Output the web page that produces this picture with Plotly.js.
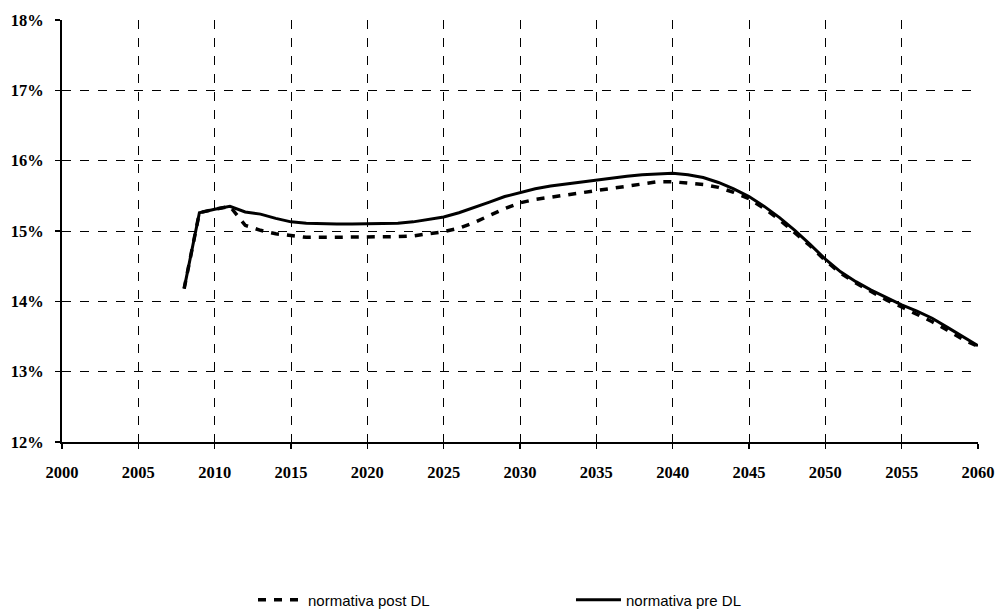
<!DOCTYPE html>
<html>
<head>
<meta charset="utf-8">
<script src="https://cdn.plot.ly/plotly-3.0.1.min.js"></script>
<style>html,body{margin:0;padding:0;background:#fff;}#chart{width:997px;height:616px;}</style>
</head>
<body>
<div id="chart"></div>
<script>
const years = [2008,2009,2010,2011,2012,2013,2014,2015,2016,2017,2018,2019,2020,2021,2022,2023,2024,2025,2026,2027,2028,2029,2030,2031,2032,2033,2034,2035,2036,2037,2038,2039,2040,2041,2042,2043,2044,2045,2046,2047,2048,2049,2050,2051,2052,2053,2054,2055,2056,2057,2058,2059,2060];
const preDL = [14.18,15.26,15.31,15.35,15.27,15.24,15.18,15.13,15.11,15.10,15.10,15.10,15.10,15.10,15.11,15.13,15.16,15.20,15.26,15.33,15.41,15.49,15.55,15.60,15.64,15.67,15.70,15.73,15.76,15.78,15.80,15.81,15.82,15.80,15.76,15.69,15.60,15.49,15.35,15.19,15.01,14.81,14.60,14.42,14.28,14.16,14.05,13.95,13.86,13.76,13.63,13.50,13.37];
const postDL = [14.18,15.26,15.31,15.35,15.08,15.01,14.96,14.93,14.91,14.91,14.91,14.91,14.91,14.91,14.92,14.93,14.96,14.99,15.04,15.12,15.22,15.32,15.40,15.45,15.48,15.51,15.55,15.58,15.61,15.64,15.67,15.70,15.70,15.68,15.66,15.62,15.55,15.46,15.32,15.16,14.98,14.79,14.58,14.40,14.26,14.14,14.02,13.92,13.82,13.71,13.59,13.46,13.36];
const xTicks = [2000,2005,2010,2015,2020,2025,2030,2035,2040,2045,2050,2055,2060];
const yTicks = [12,13,14,15,16,17,18];
const yTickText = ['12%','13%','14%','15%','16%','17%','18%'];
const seriesNames = ['normativa post DL','normativa pre DL'];

const traces = [
  {x: years, y: postDL, name: seriesNames[0], mode: 'lines',
   line: {color: '#000', width: 3.5, dash: '8px,8px', shape: 'linear'}},
  {x: years, y: preDL, name: seriesNames[1], mode: 'lines',
   line: {color: '#000', width: 3, shape: 'linear'}}
];

const tickFont = {family: '"Liberation Serif", "Times New Roman", serif', size: 16.5, color: '#000', weight: 'bold'};

const layout = {
  width: 997, height: 616,
  margin: {l: 62, r: 19, t: 20, b: 174, autoexpand: false},
  paper_bgcolor: '#fff', plot_bgcolor: '#fff',
  showlegend: true,
  hovermode: false,
  xaxis: {
    range: [2000, 2060], tickvals: xTicks, ticktext: xTicks.map(String),
    showgrid: true, gridcolor: '#000', gridwidth: 1, griddash: 'dash',
    showline: true, linecolor: '#000', linewidth: 2,
    ticks: 'outside', ticklen: 5, tickcolor: '#000', tickwidth: 1.5,
    ticklabelstandoff: 9, automargin: false,
    tickfont: tickFont, zeroline: false, fixedrange: true
  },
  yaxis: {
    range: [12, 18], tickvals: yTicks, ticktext: yTickText,
    showgrid: true, gridcolor: '#000', gridwidth: 1, griddash: 'dash',
    showline: true, linecolor: '#000', linewidth: 2,
    ticks: 'outside', ticklen: 5, tickcolor: '#000', tickwidth: 1.5,
    ticklabelstandoff: 8, automargin: false,
    tickfont: tickFont, zeroline: false, fixedrange: true
  },
  legend: {
    orientation: 'h', x: 0.2085, xanchor: 'left',
    yref: 'container', y: 0.026, yanchor: 'middle',
    font: {family: '"Liberation Sans", Arial, sans-serif', size: 15, color: '#000'},
    itemwidth: 45,
    entrywidth: 258, entrywidthmode: 'pixels',
    bgcolor: 'rgba(0,0,0,0)'
  }
};

Plotly.newPlot('chart', traces, layout, {displayModeBar: false, staticPlot: true});
</script>
</body>
</html>
